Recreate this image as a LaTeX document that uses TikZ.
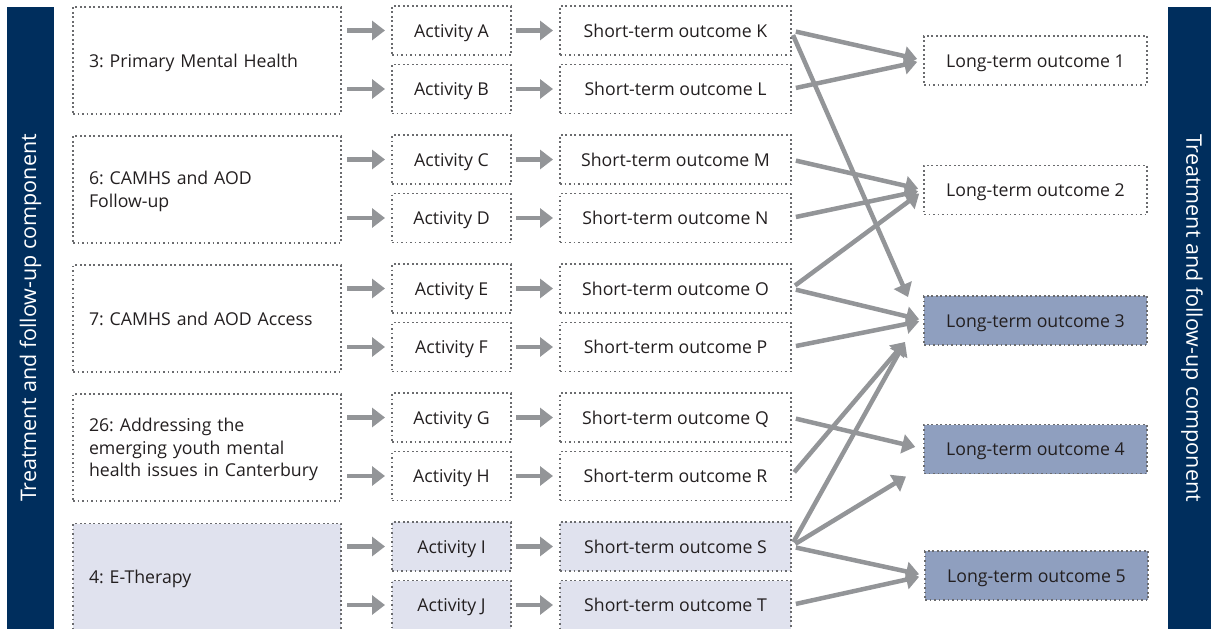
\documentclass[tikz,border=0pt]{standalone}
\usepackage{fontspec}
\setmainfont{Open Sans}
\frenchspacing
\usetikzlibrary{arrows.meta,calc}
\definecolor{navy}{HTML}{002E5D}
\definecolor{dotgrey}{HTML}{6A6B6E}
\definecolor{arrgrey}{HTML}{939598}
\definecolor{ink}{HTML}{231F20}
\definecolor{paleblue}{HTML}{E0E2EE}
\definecolor{slate}{HTML}{8F9FBF}
\begin{document}
\begin{tikzpicture}[x=1pt,y=-1pt,
  font=\fontsize{17.7}{22.5}\selectfont, text=ink,
  box/.style={draw=dotgrey, line width=1.7pt, dash pattern=on 1.7pt off 2.8pt,
    inner sep=0pt, outer sep=0pt},
  % cap-height box so that capitals sit on the box centre
  lines/.style={text height=13pt, text depth={22.5pt*(#1-1)}},
  lines/.default=1,
  prog/.style={box, minimum width=268pt, minimum height=107pt,
    text width=236pt, align=left},
  act/.style={box, lines, minimum width=119pt, minimum height=49pt},
  st/.style={box, lines, minimum width=231pt, minimum height=49pt},
  lt/.style={box, lines, minimum width=223pt, minimum height=49pt},
  soft/.style={fill=paleblue},
  dark/.style={fill=slate},
  bar/.style={fill=navy, text=white, minimum width=622pt, minimum height=47pt,
    inner sep=0pt, font=\fontsize{21.5}{24}\selectfont},
  arr/.style={draw=arrgrey, line width=4.5pt, -{Triangle[length=13pt,width=19pt]}},
  flow/.style={arr, shorten <=6pt, shorten >=7pt},
  link/.style={arr, shorten <=5pt},
]
\useasboundingbox (0,0) rectangle (1211,629);

% side bars
\node[bar, rotate=90] (barL) at (30.5,318) {Treatment and follow-up component};
\node[bar, rotate=-90, minimum height=48pt] (barR) at (1192,318) {Treatment and follow-up component};

% programme boxes
\node[prog, lines=1] (p1) at (207,60.5) {3: Primary Mental Health};
\node[prog, lines=2] (p2) at (207,189.5) {6: CAMHS and AOD\\Follow-up};
\node[prog, lines=1] (p3) at (207,318.5) {7: CAMHS and AOD Access};
\node[prog, lines=3] (p4) at (207,447.5) {26: Addressing the\\emerging youth mental\\health issues in Canterbury};
\node[prog, lines=1, soft] (p5) at (207,577) {4: E-Therapy};

% activities and short-term outcomes
\foreach \g/\a/\b/\sa/\sb/\sty in {0/A/B/K/L/, 1/C/D/M/N/, 2/E/F/O/P/, 3/G/H/Q/R/, 4/I/J/S/T/soft}{
  \pgfmathsetmacro{\ya}{30.5+129*\g}
  \pgfmathsetmacro{\yb}{89+129*\g}
  \pgfmathtruncatemacro{\pg}{\g+1}
  \node[act, \sty] (act\a) at (451.5,\ya) {Activity \a};
  \node[act, \sty] (act\b) at (451.5,\yb) {Activity \b};
  \node[st, \sty] (st\sa) at (675.5,\ya) {Short-term outcome \sa};
  \node[st, \sty] (st\sb) at (675.5,\yb) {Short-term outcome \sb};
  \draw[flow] (p\pg.east |- act\a.west) -- (act\a.west);
  \draw[flow] (p\pg.east |- act\b.west) -- (act\b.west);
  \draw[arr, shorten <=5pt, shorten >=7pt] (act\a.east) -- (st\sa.west);
  \draw[arr, shorten <=5pt, shorten >=7pt] (act\b.east) -- (st\sb.west);
}

% long-term outcomes
\node[lt] (lt1) at (1035.5,60.5) {Long-term outcome 1};
\node[lt] (lt2) at (1035.5,190) {Long-term outcome 2};
\node[lt, dark] (lt3) at (1035.5,320.5) {Long-term outcome 3};
\node[lt, dark] (lt4) at (1035.5,449) {Long-term outcome 4};
\node[lt, dark] (lt5) at (1036.5,575.5) {Long-term outcome 5};

% arrow tips that meet the corners of outcomes 3 and 4
\coordinate (lt3top) at ($(lt3.north west)+(-16,1)$);
\coordinate (lt3low) at ($(lt3.south west)+(-19,-3)$);
\coordinate (lt4low) at ($(lt4.south west)+(-18,3)$);

% short-term to long-term links
\draw[link, shorten >=7pt] (stK.east) -- (lt1.west);
\draw[link, shorten >=7pt] (stL.east) -- (lt1.west);
\draw[link] (stK.east) -- (lt3top);
\draw[link, shorten >=6pt] (stM.east) -- (lt2.west);
\draw[link, shorten >=6pt] (stN.east) -- (lt2.west);
\draw[link, shorten >=6pt] (stO.east) -- (lt2.west);
\draw[link, shorten >=5pt] (stO.east) -- (lt3.west);
\draw[link, shorten >=5pt] (stP.east) -- (lt3.west);
\draw[link] (stR.east) -- (lt3low);
\draw[link] (stS.east) -- (lt3low);
\draw[link, shorten >=9pt] (stQ.east) -- (lt4.west);
\draw[link] (stS.east) -- (lt4low);
\draw[link, shorten >=6pt] (stS.east) -- (lt5.west);
\draw[link, shorten >=6pt] (stT.east) -- (lt5.west);
\end{tikzpicture}
\end{document}
